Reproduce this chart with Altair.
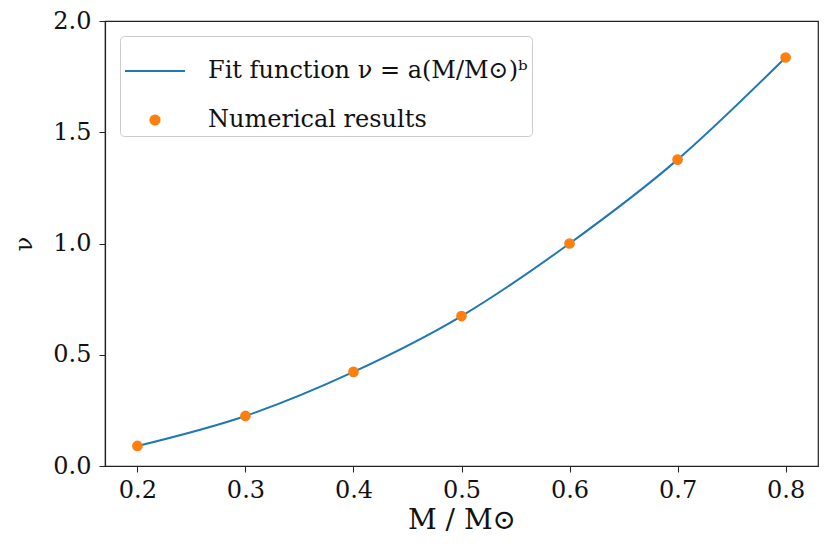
import altair as alt
import pandas as pd

mass = [0.2, 0.3, 0.4, 0.5, 0.6, 0.7, 0.8]
nu_numerical = [0.09, 0.225, 0.423, 0.674, 1.0, 1.377, 1.836]
fit_label = "Fit function ν = a(M/M⊙)ᵇ"
num_label = "Numerical results"
x_ticks = [0.2, 0.3, 0.4, 0.5, 0.6, 0.7, 0.8]
y_ticks = [0.0, 0.5, 1.0, 1.5, 2.0]

df_fit = pd.DataFrame({"M": mass, "nu": nu_numerical, "series": fit_label})
df_num = pd.DataFrame({"M": mass, "nu": nu_numerical, "series": num_label})

FONT = "DejaVu Serif"
domain = [fit_label, num_label]
colors = ["#1f77b4", "#ff7f0e"]

x = alt.X("M:Q", scale=alt.Scale(domain=[0.17, 0.83], nice=False, zero=False),
          axis=alt.Axis(values=x_ticks, format=".1f", title="M / M⊙"))
y = alt.Y("nu:Q", scale=alt.Scale(domain=[0, 2.0], nice=False),
          axis=alt.Axis(values=y_ticks, format=".1f", title="ν"))

legend = alt.Legend(title=None, orient="top-left", offset=15)
cscale = alt.Scale(domain=domain, range=colors)

line = alt.Chart(df_fit).mark_line(interpolate="monotone", strokeWidth=2).encode(
    x=x, y=y,
    color=alt.Color("series:N", scale=cscale, legend=legend),
)
points = alt.Chart(df_num).mark_point(filled=False, opacity=1, strokeWidth=1.5).encode(
    x=x, y=y,
    color=alt.Color("series:N", scale=cscale, legend=legend),
    fill=alt.Fill("series:N", scale=cscale, legend=legend),
    shape=alt.Shape("series:N", scale=alt.Scale(domain=domain, range=["stroke", "circle"]), legend=legend),
    size=alt.Size("series:N", scale=alt.Scale(domain=domain, range=[3600, 85]), legend=legend),
)

chart = alt.layer(line, points).properties(
    width=713, height=445,
    autosize="none",
    padding={"left": 97, "top": 13, "right": 4, "bottom": 82},
).configure_view(stroke="#222", strokeWidth=1.2).configure_axis(
    grid=False, domainColor="#222", tickColor="#222", labelColor="#111", titleColor="#111",
    labelFont=FONT, titleFont=FONT, labelFontSize=24, titleFontSize=28,
    titleFontWeight="normal", tickSize=6, labelPadding=8, domainWidth=1.2,
).configure_axisY(titlePadding=16, titleAngle=-90, titleFontSize=24).configure_axisX(titlePadding=4, labelPadding=6).configure_legend(
    labelFont=FONT, labelFontSize=24, labelColor="#111", labelLimit=800,
    strokeColor="#cccccc", fillColor="white", padding=4, cornerRadius=4,
    rowPadding=25, symbolStrokeWidth=2, labelOffset=22,
)

chart.save("out.html", embed_options={"renderer": "svg", "actions": False})
